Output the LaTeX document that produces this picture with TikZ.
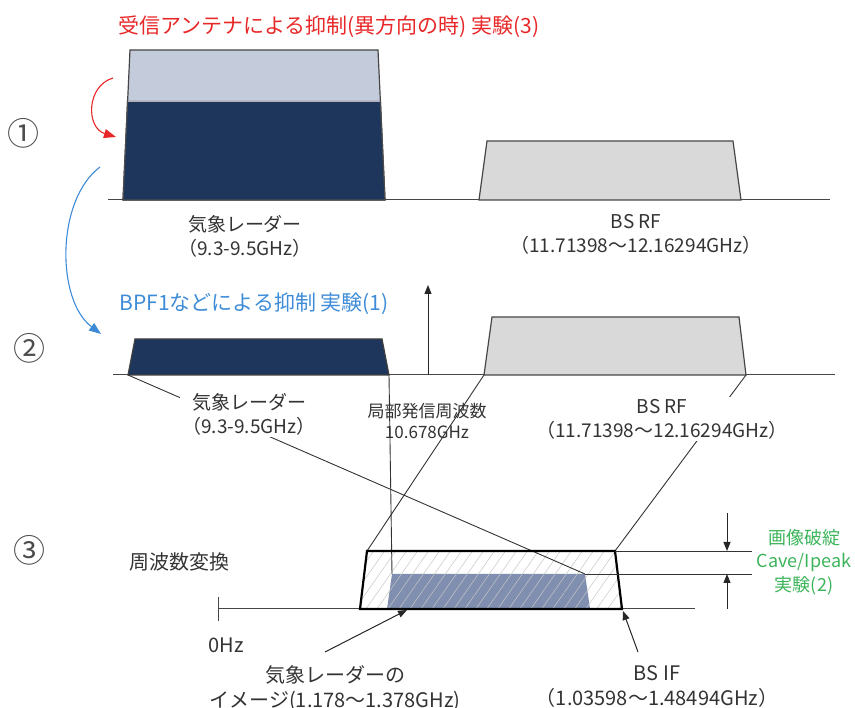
\documentclass[tikz,border=0pt]{standalone}
\usepackage{fontspec}
\setmainfont{Noto Sans CJK JP}
\usetikzlibrary{arrows.meta, patterns.meta, positioning}

\definecolor{navy}{RGB}{30,54,92}
\definecolor{paleblue}{RGB}{196,204,220}
\definecolor{bandgray}{RGB}{217,217,217}
\definecolor{imgblue}{RGB}{128,143,175}
\definecolor{redtxt}{RGB}{232,40,40}
\definecolor{bluetxt}{RGB}{62,140,215}
\definecolor{greentxt}{RGB}{60,180,90}
\definecolor{axisgray}{RGB}{70,70,70}

\begin{document}
\begin{tikzpicture}[x=1pt, y=-1pt,
  >={Triangle[length=9pt,width=7pt]},
  axis/.style={line width=1pt, axisgray},
  band/.style={draw=axisgray, line width=1.2pt},
  ifband/.style={draw=black, line width=2.2pt, line join=miter},
  mapline/.style={line width=0.9pt, black!80},
  flow/.style={->, line width=1pt, black!85},
  curvearrow/.style={->, line width=1.1pt, >={Triangle[length=12pt,width=9pt]}},
  lbl/.style={font=\fontsize{19}{24}\selectfont, align=center, text=black!80, inner sep=1pt},
  lblbox/.style={lbl, fill=white, inner sep=2pt},
  biglbl/.style={font=\fontsize{20}{25}\selectfont, align=center, text=black!80, inner sep=1pt},
  stagenum/.style={font=\fontsize{32}{32}\selectfont, text=black!70, inner sep=0pt},
  headline/.style={font=\fontsize{21}{24}\selectfont, inner sep=0pt}
]
\useasboundingbox (0,0) rectangle (855,708);

% (1) received spectrum
\node[headline, text=redtxt, anchor=west] (title) at (118,27) {受信アンテナによる抑制(異方向の時) 実験(3)};
\node[stagenum] (num1) at (24,133) {①};
\draw[axis] (108,200) -- (830,200);
\filldraw[band, fill=paleblue] (123,200) -- (130,50) -- (378,50) -- (385,200) -- cycle;
\fill[navy] (123,200) -- (127.6,101) -- (380.4,101) -- (385,200) -- cycle;
\draw[line width=1.2pt, black!70] (127.6,101) -- (123,200) -- (385,200) -- (380.4,101);
\draw[line width=0.8pt, gray!60] (127.6,101) -- (380.4,101);
\filldraw[band, fill=bandgray] (479,200) -- (487,141) -- (733,141) -- (741,200) -- cycle;
\node[lbl] (radar1) at (245,236) {気象レーダー\\（9.3-9.5GHz）};
\node[lbl] (bsrf1) at (636,234) {BS RF\\（11.71398～12.16294GHz）};

\coordinate (redS) at (113,78);
\coordinate (redE) at (116,137);
\draw[curvearrow, redtxt] (redS) .. controls (86,86) and (86,128) .. (redE);
\coordinate (blueS) at (100,167);
\coordinate (blueE) at (101,334);
\draw[curvearrow, bluetxt] (blueS) .. controls (56,200) and (56,300) .. (blueE);

% (2) after BPF
\node[headline, text=bluetxt] (bpf) at (254,304) {BPF1などによる抑制 実験(1)};
\node[stagenum] (num2) at (29,348) {②};
\draw[axis] (113,375) -- (835,375);
\coordinate (wl) at (128,375);
\coordinate (wr) at (389,375);
\coordinate (bl) at (484,375);
\coordinate (br) at (746,375);
\coordinate (lo) at (428,375);
\coordinate (lotop) at (428,285);
\filldraw[band, fill=navy, draw=black!75] (wl) -- (135,339) -- (382,339) -- (wr) -- cycle;
\filldraw[band, fill=bandgray] (bl) -- (492,317) -- (739,317) -- (br) -- cycle;
\draw[flow] (lo) -- (lotop);

% (3) frequency conversion
\node[stagenum] (num3) at (29,550) {③};
\node[biglbl] (conv) at (179,562) {周波数変換};
\coordinate (zero) at (218,609);
\draw[axis] (zero) -- (695,609);
\draw[axis] (218,597) -- (218,621);
\node[biglbl] (zerolbl) at (226,645) {0Hz};

\coordinate (ifTL) at (367,551);
\coordinate (ifTR) at (615,551);
\coordinate (ifBL) at (360,609);
\coordinate (ifBR) at (622,609);
\coordinate (imTL) at (392,574);
\coordinate (imTR) at (585,574);
\fill[white] (ifBL) -- (ifTL) -- (ifTR) -- (ifBR) -- cycle;
\fill[imgblue] (387,609) -- (imTL) -- (imTR) -- (590,609) -- cycle;
\fill[pattern={Lines[angle=55,distance=9pt,line width=0.5pt]}, pattern color=black!22]
  (ifBL) -- (ifTL) -- (ifTR) -- (ifBR) -- cycle;

% mapping lines
\draw[mapline] (wl) -- (imTR);
\draw[mapline] (wr) -- (imTL);
\draw[mapline] (bl) -- (ifTL);
\draw[mapline] (br) -- (ifTR);
\draw[ifband] (ifBL) -- (ifTL) -- (ifTR) -- (ifBR) -- cycle;

\node[lblbox] (radar2) at (249,414) {気象レーダー\\（9.3-9.5GHz）};
\node[lbl, font=\fontsize{17}{21}\selectfont] (lolbl) at (427,421) {局部発信周波数\\10.678GHz};
\node[lblbox] (bsrf2) at (662,419) {BS RF\\（11.71398～12.16294GHz）};

% picture-break margin
\coordinate (dimTop) at (752,551);
\coordinate (dimMid) at (752,574);
\draw[mapline] (ifTR) -- (dimTop);
\draw[mapline] (imTR) -- (dimMid);
\coordinate (dnS) at (727,513);
\coordinate (dnE) at (727,551);
\coordinate (upS) at (727,609);
\coordinate (upE) at (727,574);
\draw[flow] (dnS) -- (dnE);
\draw[flow] (upS) -- (upE);
\node[biglbl, text=greentxt, font=\fontsize{18}{23.5}\selectfont] (breakup) at (804,562) {画像破綻\\Cave/Ipeak\\実験(2)};

\node[biglbl] (imglbl) at (335,688) {気象レーダーの\\イメージ(1.178～1.378GHz)};
\node[biglbl] (bsif) at (657,686) {BS IF\\（1.03598～1.48494GHz）};
\coordinate (imgS) at (325,652);
\coordinate (imgE) at (407,610);
\coordinate (bsifS) at (638,652);
\coordinate (bsifE) at (623,611);
\draw[flow] (imgS) -- (imgE);
\draw[flow] (bsifS) -- (bsifE);
\end{tikzpicture}
\end{document}
